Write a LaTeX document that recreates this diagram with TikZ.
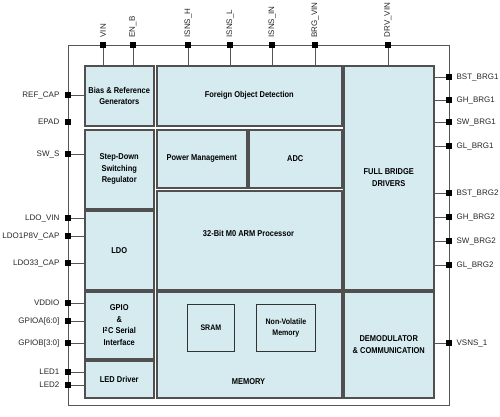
\documentclass[tikz,border=0pt]{standalone}
\usepackage{fontspec}
\setmainfont{Liberation Sans}
\newfontfamily\blockfont[FakeStretch=0.88]{Liberation Sans}
\usepackage{tikz}
\usetikzlibrary{positioning}

\definecolor{blkfill}{HTML}{D5EBF0}
\definecolor{blkline}{HTML}{505050}
\definecolor{wirecol}{HTML}{555555}

\tikzset{
  blk/.style={draw=blkline, line width=1.5pt, fill=blkfill, anchor=north west,
    inner sep=0pt, align=center, font=\blockfont\bfseries\fontsize{8.5}{11.5}\selectfont},
  subblk/.style={draw=black!80, line width=0.8pt, fill=blkfill, anchor=north west,
    inner sep=0pt, align=center, font=\blockfont\bfseries\fontsize{8}{11}\selectfont},
  pad/.style={fill=black, minimum size=6.5pt, inner sep=0pt},
  padlbl/.style={font=\fontsize{8}{9}\selectfont, inner sep=0pt, text=black!85},
  wire/.style={draw=wirecol, line width=0.9pt}
}

\begin{document}
\begin{tikzpicture}[x=1pt, y=-1pt]
  \useasboundingbox (0,0) rectangle (500,416);

  % Rammen rundt brikken
  \draw[wire] (68,45) rectangle (449,405);

  % Blokkene til venstre
  \node[blk, minimum width=69pt, minimum height=60pt] (bias) at (84,65) {Bias \& Reference\\Generators};
  \node[blk, minimum width=69pt, minimum height=79pt] (buck) at (84,129) {Step-Down\\Switching\\Regulator};
  \node[blk, minimum width=69pt, minimum height=79pt] (ldo) at (84,210) {LDO};
  \node[blk, minimum width=69pt, minimum height=67pt] (gpio) at (84,291) {GPIO\\\&\\I\textsuperscript{2}C Serial\\Interface};
  \node[blk, minimum width=69pt, minimum height=37pt] (led) at (84,360) {LED Driver};

  % Blokkene i midten
  \node[blk, minimum width=185pt, minimum height=60pt] (fod) at (156,65) {Foreign Object Detection};
  \node[blk, minimum width=90pt, minimum height=58pt] (pm) at (156,129) {Power Management};
  \node[blk, minimum width=93pt, minimum height=58pt] (adc) at (248,129) {ADC};
  \node[blk, minimum width=185pt, minimum height=99pt] (cpu) at (156,190) {};
  \node[font=\blockfont\bfseries\fontsize{8.5}{11.5}\selectfont] (cpulbl) at (248.5,233) {32-Bit M0 ARM Processor};
  \node[blk, minimum width=185pt, minimum height=106pt] (mem) at (156,291) {};
  \node[subblk, minimum width=47pt, minimum height=47pt] (sram) at (187,304) {SRAM};
  \node[subblk, minimum width=59pt, minimum height=47pt] (nvm) at (256,304) {Non-Volatile\\Memory};
  \node[font=\blockfont\bfseries\fontsize{8.5}{11.5}\selectfont] (memlbl) at (248.5,382) {MEMORY};

  % Blokkene til hoyre
  \node[blk, minimum width=90pt, minimum height=224pt] (fbd) at (343,65) {FULL BRIDGE\\DRIVERS};
  \node[blk, minimum width=90pt, minimum height=106pt] (demod) at (343,291) {DEMODULATOR\\\& COMMUNICATION};

  % Pinner oppe
  \foreach \nm/\px/\txt/\to in {vin/103/VIN/bias, enb/133/EN\_B/bias,
      isnsh/188/ISNS\_H/fod, isnsl/230/ISNS\_L/fod, isnsin/272/ISNS\_IN/fod,
      brgvin/315/BRG\_VIN/fod, drvvin/388/DRV\_VIN/fbd} {
    \node[pad] (\nm) at (\px,45) {};
    \node[padlbl, rotate=90, above=4pt of \nm, anchor=west] {\txt};
    \draw[wire] (\nm) -- (\nm |- \to.north);
  }

  % Pinner til venstre
  \foreach \nm/\py/\txt/\to in {refcap/95/REF\_CAP/bias, sws/154/SW\_S/buck,
      ldovin/218/LDO\_VIN/ldo, ldo18/236/LDO1P8V\_CAP/ldo, ldo33/263/LDO33\_CAP/ldo,
      vddio/303/VDDIO/gpio, gpioa/321/GPIOA[6:0]/gpio, gpiob/343/GPIOB[3:0]/gpio,
      ledone/372/LED1/led, ledtwo/385/LED2/led} {
    \node[pad] (\nm) at (68,\py) {};
    \node[padlbl, left=5pt of \nm] {\txt};
    \draw[wire] (\nm) -- (\to.west |- \nm);
  }
  \node[pad] (epad) at (68,122) {};
  \node[padlbl, left=5pt of epad] {EPAD};

  % Pinner til hoyre
  \foreach \nm/\py/\txt/\to in {bstone/77/BST\_BRG1/fbd, ghone/100/GH\_BRG1/fbd,
      swone/122/SW\_BRG1/fbd, glone/146/GL\_BRG1/fbd, bsttwo/193/BST\_BRG2/fbd,
      ghtwo/217/GH\_BRG2/fbd, swtwo/241/SW\_BRG2/fbd, gltwo/265/GL\_BRG2/fbd,
      vsns/343/VSNS\_1/demod} {
    \node[pad] (\nm) at (449,\py) {};
    \node[padlbl, right=4pt of \nm] {\txt};
    \draw[wire] (\to.east |- \nm) -- (\nm);
  }
\end{tikzpicture}
\end{document}
